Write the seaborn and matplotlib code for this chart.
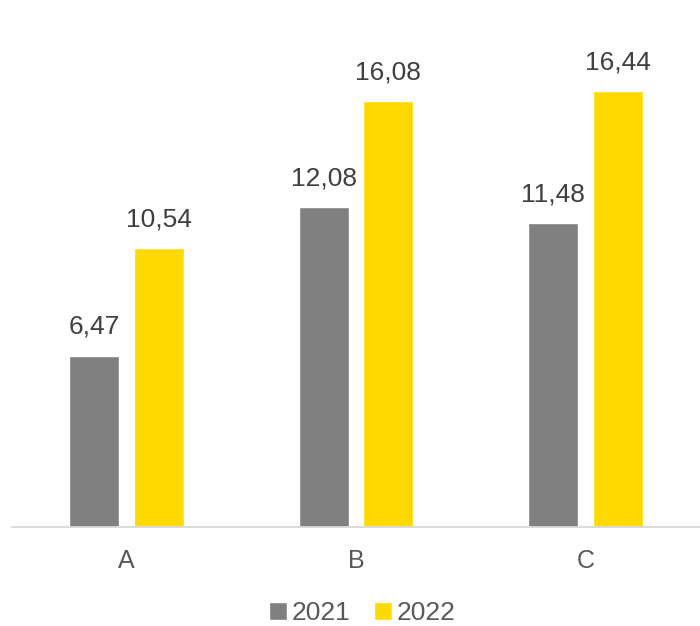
import matplotlib
matplotlib.use("Agg")
import matplotlib.pyplot as plt
import seaborn as sns
import pandas as pd

categories = ["A", "B", "C"]
years = ["2021", "2022"]
values_2021 = [6.47, 12.08, 11.48]
values_2022 = [10.54, 16.08, 16.44]

df = pd.DataFrame({
    "category": categories * 2,
    "year": [years[0]] * 3 + [years[1]] * 3,
    "value": values_2021 + values_2022,
})

sns.set_style("white")
plt.rcParams["font.family"] = ["Liberation Sans", "DejaVu Sans"]

fig = plt.figure(figsize=(7, 6.26), dpi=100)
ax = fig.add_axes([12 / 700, 99 / 626, 688 / 700, 530 / 626])

sns.barplot(data=df, x="category", y="value", hue="year",
            palette=["#808080", "#FFDA00"], width=0.564, gap=0.225,
            saturation=1, ax=ax)

for container in ax.containers:
    for bar in container:
        h = bar.get_height()
        ax.annotate(f"{h:.2f}".replace(".", ","),
                    (bar.get_x() + bar.get_width() / 2, h),
                    xytext=(0, 12), textcoords="offset points",
                    ha="center", va="bottom", fontsize=19, color="#404040")

ax.set_ylim(0, 20)
ax.set_xlim(-0.5, 2.5)
ax.set_xlabel("")
ax.set_ylabel("")
ax.set_yticks([])
for s in ["top", "right", "left"]:
    ax.spines[s].set_visible(False)
ax.spines["bottom"].set_color("#D9D9D9")
ax.spines["bottom"].set_linewidth(1.3)
ax.tick_params(axis="x", length=0, pad=16, labelsize=18, labelcolor="#595959")

ax.legend(loc="center", bbox_to_anchor=(362 / 700, 13 / 626), bbox_transform=fig.transFigure,
          ncol=2, frameon=False, fontsize=19, handlelength=0.7, handleheight=0.7,
          handletextpad=0.15, columnspacing=0.9, labelcolor="#595959")

fig.savefig("out.png", dpi=100)
